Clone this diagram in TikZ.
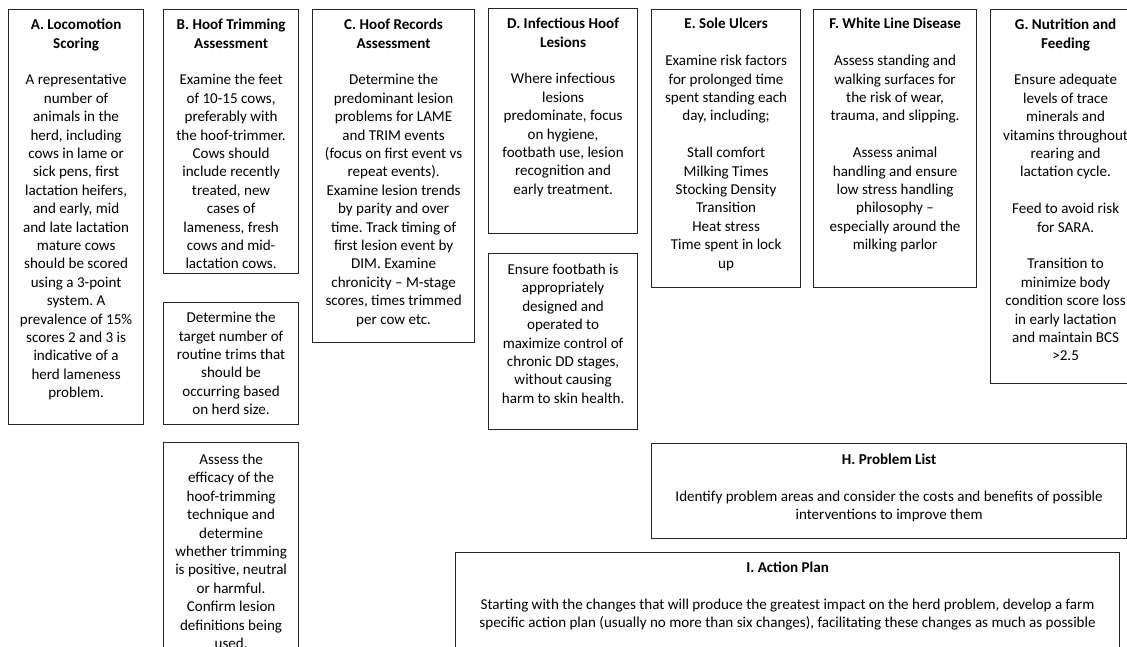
\documentclass[tikz,border=0pt]{standalone}
\usepackage{fontspec}
\setmainfont{Carlito}
\usetikzlibrary{positioning}
\frenchspacing

\tikzset{
  box/.style={draw=black!85, line width=0.9pt, anchor=north west, inner sep=0pt},
  txt/.style={align=center, inner sep=0pt, text=black,
    font=\fontsize{11.3}{13.8}\selectfont},
}
\newcommand{\hd}[1]{\textbf{#1}}

\begin{document}
\begin{tikzpicture}[x=0.75pt, y=-0.75pt]
        \useasboundingbox (0,0) rectangle (1127,646);
        \clip (0,0) rectangle (1127,646);
        % boxes
        \node[box, minimum width=101.25pt, minimum height=311.25pt] (A) at (8,9) {};
        \node[box, minimum width=101.25pt, minimum height=198pt] (B1) at (163,9) {};
        \node[box, minimum width=101.25pt, minimum height=91.5pt] (B2) at (163,302) {};
        \node[box, minimum width=101.25pt, minimum height=195pt] (B3) at (163,442) {};
        \node[box, minimum width=121.5pt, minimum height=249.75pt] (C) at (312,9) {};
        \node[box, minimum width=111.75pt, minimum height=168.75pt] (D1) at (488,8) {};
        \node[box, minimum width=111.75pt, minimum height=132pt] (D2) at (488,253) {};
        \node[box, minimum width=111.75pt, minimum height=208.5pt] (E) at (651,9) {};
        \node[box, minimum width=122.25pt, minimum height=208.5pt] (F) at (813,9) {};
        \node[box, minimum width=112.5pt, minimum height=280.5pt] (G) at (990,9) {};
        \node[box, minimum width=356.25pt, minimum height=71.25pt] (H) at (651,443) {};
        \node[box, minimum width=498pt, minimum height=112.5pt] (I) at (455,552) {};

        % texts
        \node[txt, below=5.6pt of A.north] (At) {\strut\hd{A. Locomotion}\\ \hd{Scoring}\\[13.8pt]
            A representative\\ number of\\ animals in the\\ herd, including\\ cows in lame or\\
            sick pens, first\\ lactation heifers,\\ and early, mid\\ and late lactation\\
            mature cows\\ should be scored\\ using a 3-point\\ system. A\\ prevalence of 15\%\\
            scores 2 and 3 is\\ indicative of a\\ herd lameness\\ problem.};
        \node[txt, below=5.6pt of B1.north] (B1t) {\strut\hd{B. Hoof Trimming}\\ \hd{Assessment}\\[13.8pt]
            Examine the feet\\ of 10-15 cows,\\ preferably with\\ the hoof-trimmer.\\ Cows should\\
            include recently\\ treated, new\\ cases of\\ lameness, fresh\\ cows and mid-\\ lactation cows.};
        \node[txt, below=5.6pt of B2.north] (B2t) {\strut Determine the\\ target number of\\
            routine trims that\\ should be\\ occurring based\\ on herd size.};
        \node[txt, below=7pt of B3.north] (B3t) {\strut Assess the\\ efficacy of the\\ hoof-trimming\\
            technique and\\ determine\\ whether trimming\\ is positive, neutral\\ or harmful.\\
            Confirm lesion\\ definitions being\\ used.};
        \node[txt, below=5.6pt of C.north] (Ct) {\strut\hd{C. Hoof Records}\\ \hd{Assessment}\\[13.8pt]
            Determine the\\ predominant lesion\\ problems for LAME\\ and TRIM events\\
            (focus on first event vs\\ repeat events).\\ Examine lesion trends\\ by parity and over\\
            time. Track timing of\\ first lesion event by\\ DIM. Examine\\ chronicity -- M-stage\\
            scores, times trimmed\\ per cow etc.};
        \node[txt, below=5.6pt of D1.north] (D1t) {\strut\hd{D. Infectious Hoof}\\ \hd{Lesions}\\[13.8pt]
            Where infectious\\ lesions\\ predominate, focus\\ on hygiene,\\ footbath use, lesion\\
            recognition and\\ early treatment.};
        \node[txt, below=6.3pt of D2.north] (D2t) {\strut Ensure footbath is\\ appropriately\\
            designed and\\ operated to\\ maximize control of\\ chronic DD stages,\\
            without causing\\ harm to skin health.};
        \node[txt, below=5.0pt of E.north] (Et) {\strut\hd{E. Sole Ulcers}\\[13.8pt]
            Examine risk factors\\ for prolonged time\\ spent standing each\\ day, including;\\[13.8pt]
            Stall comfort\\ Milking Times\\ Stocking Density\\ Transition\\ Heat stress\\
            Time spent in lock\\ up};
        \node[txt, below=5.0pt of F.north] (Ft) {\strut\hd{F. White Line Disease}\\[13.8pt]
            Assess standing and\\ walking surfaces for\\ the risk of wear,\\ trauma, and slipping.\\[13.8pt]
            Assess animal\\ handling and ensure\\ low stress handling\\ philosophy --\\
            especially around the\\ milking parlor};
        \node[txt, below=5.6pt of G.north] (Gt) {\strut\hd{G. Nutrition and}\\ \hd{Feeding}\\[13.8pt]
            Ensure adequate\\ levels of trace\\ minerals and\\ vitamins throughout\\ rearing and\\
            lactation cycle.\\[13.8pt] Feed to avoid risk\\ for SARA.\\[13.8pt]
            Transition to\\ minimize body\\ condition score loss\\ in early lactation\\
            and maintain BCS\\ >2.5};
        \node[txt, below=6.3pt of H.north] (Ht) {\strut\hd{H. Problem List}\\[13.8pt]
            Identify problem areas and consider the costs and benefits of possible\\
            interventions to improve them};
        \node[txt, below=5.6pt of I.north] (It) {\strut\hd{I. Action Plan}\\[13.8pt]
            Starting with the changes that will produce the greatest impact on the herd problem, develop a farm\\
            specific action plan (usually no more than six changes), facilitating these changes as much as possible};
    \end{tikzpicture}
\end{document}
